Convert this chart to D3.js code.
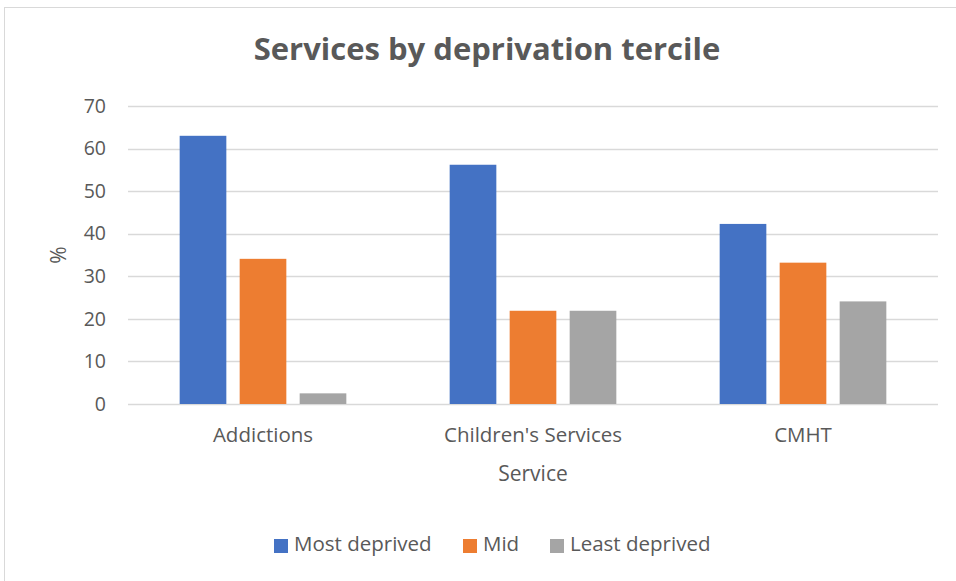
<!DOCTYPE html>
<html>
<head>
<meta charset="utf-8">
<script src="https://cdn.jsdelivr.net/npm/d3@7"></script>
<style>
  html, body { margin: 0; padding: 0; background: #fff; }
  svg { display: block; font-family: "Open Sans", "Noto Sans", sans-serif; }
</style>
</head>
<body>
<svg id="chart" width="956" height="581"></svg>
<script>
// Share of each service's clients by deprivation tercile (%)
const categories = ["Addictions", "Children's Services", "CMHT"];
const seriesNames = ["Most deprived", "Mid", "Least deprived"];
const mostDeprived = [63.0, 56.2, 42.3];
const mid = [34.1, 21.9, 33.2];
const leastDeprived = [2.5, 21.9, 24.1];
const yTicks = [0, 10, 20, 30, 40, 50, 60, 70];
const colors = ["#4472C4", "#ED7D31", "#A5A5A5"];

const seriesValues = [mostDeprived, mid, leastDeprived];
const rows = categories.map((c, i) => ({
  category: c,
  values: seriesNames.map((s, j) => ({ series: s, value: seriesValues[j][i] }))
}));

const svg = d3.select("#chart");
const textColor = "#595959";

// chart frame
svg.append("rect")
  .attr("x", 4.5).attr("y", 7.5)
  .attr("width", 980).attr("height", 600)
  .attr("fill", "#fff").attr("stroke", "#D9D9D9").attr("stroke-width", 1);

const plot = { left: 128, right: 938, top: 106, bottom: 404 };

const y = d3.scaleLinear().domain([0, 70]).range([plot.bottom, plot.top]);
const x0 = d3.scaleBand().domain(categories).range([plot.left, plot.right]).padding(0);
const x1 = d3.scaleBand().domain(seriesNames)
  .range([x0.bandwidth() / 6, x0.bandwidth() * 5 / 6])
  .paddingInner(2 / 9).paddingOuter(1 / 9);

// gridlines
svg.append("g")
  .selectAll("line")
  .data(yTicks)
  .join("line")
  .attr("x1", plot.left).attr("x2", plot.right)
  .attr("y1", d => Math.round(y(d)) + 0.5).attr("y2", d => Math.round(y(d)) + 0.5)
  .attr("stroke", "#D9D9D9").attr("stroke-width", 1.3);

// y tick labels
const yAxis = d3.axisLeft(y).tickValues(yTicks).tickSize(0).tickPadding(0);
const gy = svg.append("g").attr("transform", `translate(106,0)`).call(yAxis);
gy.select(".domain").remove();
gy.selectAll("text")
  .attr("fill", textColor).attr("font-size", 19.5)
  .attr("font-family", "'Open Sans', sans-serif");

// bars
const groups = svg.append("g")
  .selectAll("g")
  .data(rows)
  .join("g")
  .attr("transform", d => `translate(${x0(d.category)},0)`);

groups.selectAll("rect")
  .data(d => d.values)
  .join("rect")
  .attr("x", d => x1(d.series))
  .attr("width", x1.bandwidth())
  .attr("y", d => y(d.value))
  .attr("height", d => y(0) - y(d.value))
  .attr("fill", (d, i) => colors[i]);

// x category labels
const xAxis = d3.axisBottom(x0).tickSize(0).tickPadding(0);
const gx = svg.append("g").attr("transform", `translate(0,${plot.bottom + 31})`).call(xAxis);
gx.select(".domain").remove();
gx.selectAll("text")
  .attr("fill", textColor).attr("font-size", 20.5)
  .attr("font-family", "'Open Sans', sans-serif")
  .attr("dy", "0.35em");

// axis titles
svg.append("text")
  .attr("x", (plot.left + plot.right) / 2).attr("y", 475)
  .attr("text-anchor", "middle").attr("dominant-baseline", "middle")
  .attr("fill", textColor).attr("font-size", 21)
  .text("Service");

svg.append("text")
  .attr("transform", `translate(60,255) rotate(-90)`)
  .attr("text-anchor", "middle").attr("dominant-baseline", "middle")
  .attr("fill", textColor).attr("font-size", 21)
  .text("%");

// title
svg.append("text")
  .attr("x", 487).attr("y", 52)
  .attr("text-anchor", "middle").attr("dominant-baseline", "middle")
  .attr("fill", textColor).attr("font-size", 31).attr("font-weight", "bold")
  .text("Services by deprivation tercile");

// legend
const legendX = [274, 463, 550];
const legend = svg.append("g")
  .selectAll("g")
  .data(seriesNames)
  .join("g")
  .attr("transform", (d, i) => `translate(${legendX[i]},546)`);
legend.append("rect")
  .attr("x", 0).attr("y", -7).attr("width", 14).attr("height", 14)
  .attr("fill", (d, i) => colors[i]);
legend.append("text")
  .attr("x", 20).attr("y", 0)
  .attr("dominant-baseline", "middle")
  .attr("fill", textColor).attr("font-size", 20.5)
  .text(d => d);
</script>
</body>
</html>
